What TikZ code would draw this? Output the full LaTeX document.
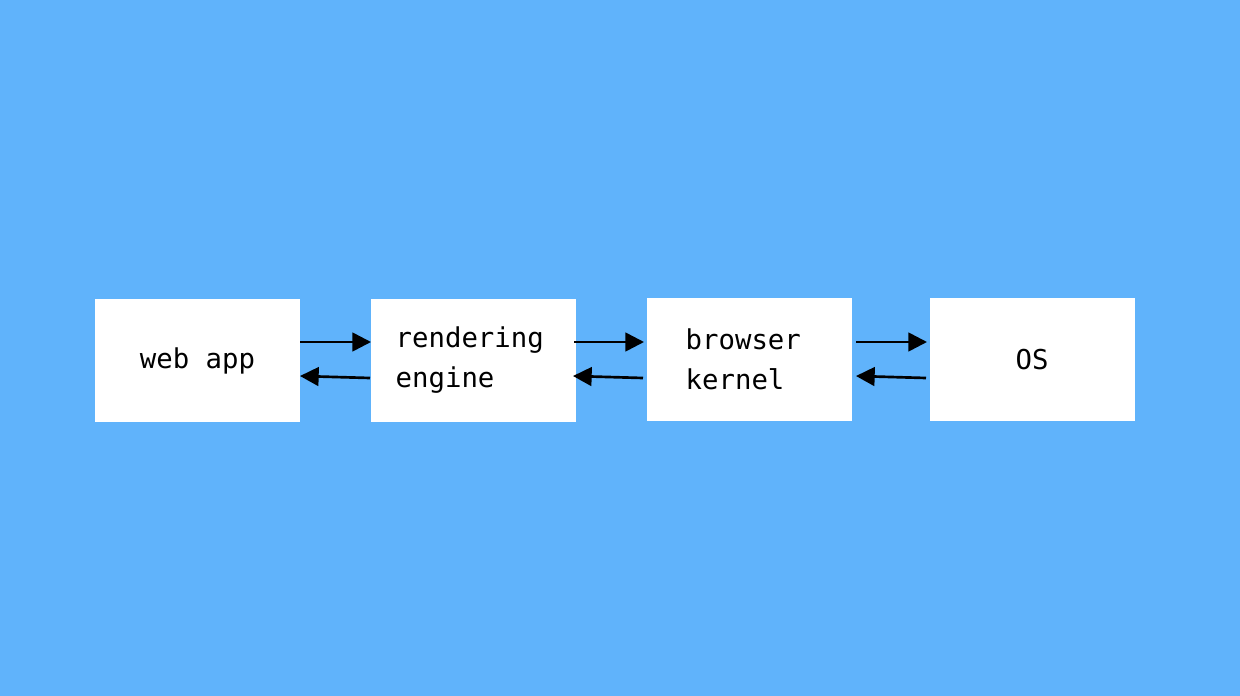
\documentclass[tikz,border=0pt]{standalone}
\usepackage{fontspec}
\setmonofont{DejaVu Sans Mono}
\usetikzlibrary{arrows.meta}
\definecolor{bg}{HTML}{60B3FB}
\begin{document}
\begin{tikzpicture}[x=0.75pt,y=-0.75pt,
  box/.style={fill=white,draw=none,minimum width=153.75pt,minimum height=92.25pt,inner sep=0pt},
  lbl/.style={font=\ttfamily\fontsize{20.5}{30}\selectfont,align=left},
  arr/.style={line width=2pt,-{Triangle[length=14pt,width=14pt]}}]
\fill[bg] (0,0) rectangle (1240,696);
\useasboundingbox (0,0) rectangle (1240,696);
\node[box] (a) at (197.5,360.5) {};
\node[box] (b) at (473.5,360.5) {};
\node[box] (c) at (749.5,359.5) {};
\node[box] (d) at (1032,359.5) {};
\node[lbl] at (a) {web app};
\node[lbl,anchor=west] at (391,360.5) {rendering\\engine};
\node[lbl,anchor=west] at (681,359.5) {browser\\kernel};
\node[lbl] at (d) {OS};
\coordinate (a1) at (300,342); \coordinate (b1) at (371,342);
\coordinate (b2) at (370,378); \coordinate (a2) at (300,376);
\coordinate (b3) at (574,342); \coordinate (c3) at (644,342);
\coordinate (c4) at (643,378); \coordinate (b4) at (573,376);
\coordinate (c5) at (856,342); \coordinate (d5) at (927,342);
\coordinate (d6) at (926,378); \coordinate (c6) at (856,376);
\draw[arr] (a1) -- (b1);
\draw[arr] (b2) -- (a2);
\draw[arr] (b3) -- (c3);
\draw[arr] (c4) -- (b4);
\draw[arr] (c5) -- (d5);
\draw[arr] (d6) -- (c6);
\end{tikzpicture}
\end{document}
